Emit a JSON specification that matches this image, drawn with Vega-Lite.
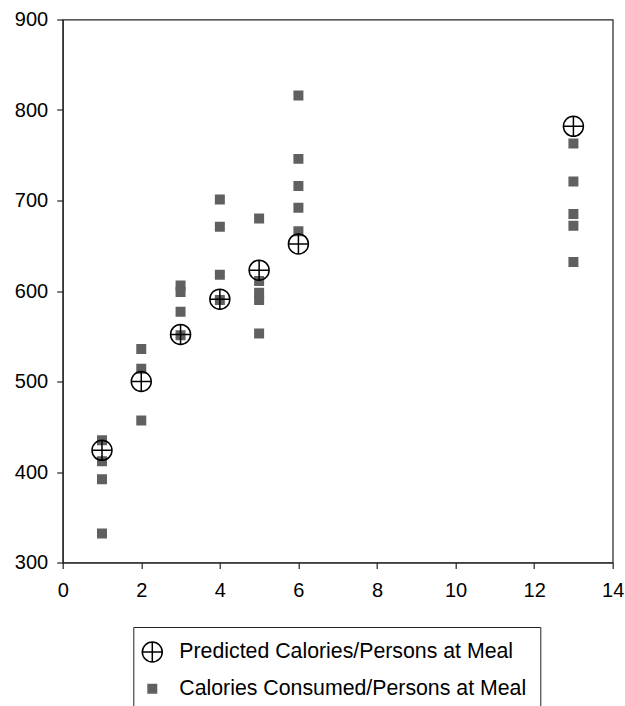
{
  "$schema": "https://vega.github.io/schema/vega-lite/v6.json",
  "autosize": "none",
  "width": 550,
  "height": 543,
  "padding": {"left": 62.7, "top": 19.5, "right": 12.3, "bottom": 143.5},
  "background": "white",
  "config": {
    "view": {"stroke": "#222", "strokeWidth": 1.2},
    "font": "Liberation Sans",
    "axis": {
      "grid": false,
      "domainColor": "#222",
      "domainWidth": 1.2,
      "tickColor": "#222",
      "tickSize": 6,
      "tickWidth": 1.2,
      "labelFont": "Liberation Sans",
      "labelFontSize": 20,
      "labelColor": "black",
      "title": null
    }
  },
  "data": {
    "values": [
      {"persons": 1, "calories": 435, "series": "Calories Consumed/Persons at Meal"},
      {"persons": 1, "calories": 412, "series": "Calories Consumed/Persons at Meal"},
      {"persons": 1, "calories": 392, "series": "Calories Consumed/Persons at Meal"},
      {"persons": 1, "calories": 332, "series": "Calories Consumed/Persons at Meal"},
      {"persons": 2, "calories": 536, "series": "Calories Consumed/Persons at Meal"},
      {"persons": 2, "calories": 514, "series": "Calories Consumed/Persons at Meal"},
      {"persons": 2, "calories": 457, "series": "Calories Consumed/Persons at Meal"},
      {"persons": 3, "calories": 606, "series": "Calories Consumed/Persons at Meal"},
      {"persons": 3, "calories": 599, "series": "Calories Consumed/Persons at Meal"},
      {"persons": 3, "calories": 577, "series": "Calories Consumed/Persons at Meal"},
      {"persons": 3, "calories": 551, "series": "Calories Consumed/Persons at Meal"},
      {"persons": 4, "calories": 701, "series": "Calories Consumed/Persons at Meal"},
      {"persons": 4, "calories": 671, "series": "Calories Consumed/Persons at Meal"},
      {"persons": 4, "calories": 618, "series": "Calories Consumed/Persons at Meal"},
      {"persons": 4, "calories": 590, "series": "Calories Consumed/Persons at Meal"},
      {"persons": 5, "calories": 680, "series": "Calories Consumed/Persons at Meal"},
      {"persons": 5, "calories": 611, "series": "Calories Consumed/Persons at Meal"},
      {"persons": 5, "calories": 598, "series": "Calories Consumed/Persons at Meal"},
      {"persons": 5, "calories": 590, "series": "Calories Consumed/Persons at Meal"},
      {"persons": 5, "calories": 553, "series": "Calories Consumed/Persons at Meal"},
      {"persons": 6, "calories": 816, "series": "Calories Consumed/Persons at Meal"},
      {"persons": 6, "calories": 746, "series": "Calories Consumed/Persons at Meal"},
      {"persons": 6, "calories": 716, "series": "Calories Consumed/Persons at Meal"},
      {"persons": 6, "calories": 692, "series": "Calories Consumed/Persons at Meal"},
      {"persons": 6, "calories": 666, "series": "Calories Consumed/Persons at Meal"},
      {"persons": 13, "calories": 763, "series": "Calories Consumed/Persons at Meal"},
      {"persons": 13, "calories": 721, "series": "Calories Consumed/Persons at Meal"},
      {"persons": 13, "calories": 685, "series": "Calories Consumed/Persons at Meal"},
      {"persons": 13, "calories": 672, "series": "Calories Consumed/Persons at Meal"},
      {"persons": 13, "calories": 632, "series": "Calories Consumed/Persons at Meal"},
      {"persons": 1, "calories": 424, "series": "Predicted Calories/Persons at Meal"},
      {"persons": 2, "calories": 500, "series": "Predicted Calories/Persons at Meal"},
      {"persons": 3, "calories": 552, "series": "Predicted Calories/Persons at Meal"},
      {"persons": 4, "calories": 591, "series": "Predicted Calories/Persons at Meal"},
      {"persons": 5, "calories": 623, "series": "Predicted Calories/Persons at Meal"},
      {"persons": 6, "calories": 652, "series": "Predicted Calories/Persons at Meal"},
      {"persons": 13, "calories": 782, "series": "Predicted Calories/Persons at Meal"}
    ]
  },
  "mark": {"type": "point", "strokeWidth": 1.5, "opacity": 1},
  "encoding": {
    "x": {
      "field": "persons",
      "type": "quantitative",
      "scale": {"domain": [0, 14], "nice": false, "zero": false},
      "axis": {"values": [0, 2, 4, 6, 8, 10, 12, 14], "labelPadding": 12, "labelFlush": false}
    },
    "y": {
      "field": "calories",
      "type": "quantitative",
      "scale": {"domain": [300, 900], "nice": false, "zero": false},
      "axis": {"values": [300, 400, 500, 600, 700, 800, 900], "labelPadding": 9, "labelFlush": false}
    },
    "shape": {
      "field": "series",
      "type": "nominal",
      "scale": {
        "domain": ["Predicted Calories/Persons at Meal", "Calories Consumed/Persons at Meal"],
        "range": ["M-1,0A1,1 0 1,1 1,0A1,1 0 1,1 -1,0M-1,0L1,0M0,-1L0,1", "square"]
      },
      "legend": {
        "title": null,
        "orient": "none",
        "legendX": 70.6,
        "legendY": 607.5,
        "strokeColor": "#222",
        "padding": 14,
        "rowPadding": 12,
        "labelFont": "Liberation Sans",
        "labelFontSize": 21.3,
        "labelColor": "black",
        "labelOffset": 16,
        "labelLimit": 600,
        "symbolOffset": -6,
        "symbolStrokeWidth": 1.5,
        "labelExpr": "datum.label + '\u00a0\u00a0\u00a0\u00a0\u00a0\u00a0\u00a0\u00a0\u00a0'"
      }
    },
    "fill": {
      "field": "series",
      "type": "nominal",
      "scale": {
        "domain": ["Predicted Calories/Persons at Meal", "Calories Consumed/Persons at Meal"],
        "range": ["transparent", "#606060"]
      }
    },
    "stroke": {
      "field": "series",
      "type": "nominal",
      "scale": {
        "domain": ["Predicted Calories/Persons at Meal", "Calories Consumed/Persons at Meal"],
        "range": ["black", "#606060"]
      }
    },
    "size": {
      "field": "series",
      "type": "nominal",
      "scale": {
        "domain": ["Predicted Calories/Persons at Meal", "Calories Consumed/Persons at Meal"],
        "range": [400, 72]
      }
    }
  }
}
